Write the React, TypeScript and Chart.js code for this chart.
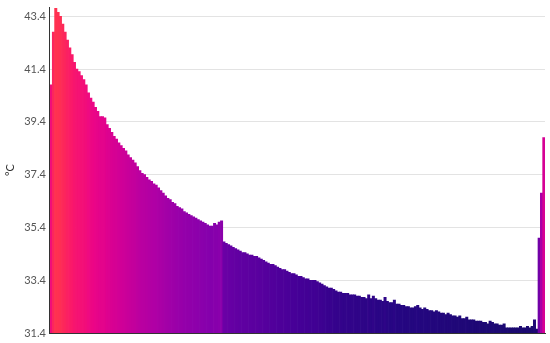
import React, { useEffect, useRef } from "react";
import { Chart, registerables } from "chart.js";

Chart.register(...registerables);

// Temperature per bar (°C), left to right
const TEMPS: number[] = [
  40.8, 42.8, 43.7, 43.55, 43.4, 43.1, 42.8, 42.5, 42.2, 41.95,
  41.65, 41.4, 41.3, 41.15, 41.0, 40.8, 40.5, 40.3, 40.15, 39.95,
  39.8, 39.6, 39.6, 39.55, 39.3, 39.15, 39.0, 38.85, 38.75, 38.6,
  38.5, 38.4, 38.3, 38.15, 38.05, 37.95, 37.85, 37.7, 37.55, 37.45,
  37.4, 37.3, 37.2, 37.15, 37.05, 37.0, 36.9, 36.8, 36.7, 36.6,
  36.5, 36.45, 36.35, 36.3, 36.2, 36.15, 36.1, 36.0, 35.95, 35.9,
  35.85, 35.8, 35.75, 35.7, 35.65, 35.6, 35.55, 35.5, 35.45, 35.45,
  35.55, 35.5, 35.6, 35.65,
  34.85, 34.8, 34.75, 34.7, 34.65, 34.6, 34.55, 34.5, 34.45, 34.45,
  34.4, 34.35, 34.35, 34.3, 34.3, 34.25, 34.2, 34.15, 34.1, 34.05,
  34.0, 34.0, 33.95, 33.9, 33.85, 33.8, 33.8, 33.75, 33.7, 33.65,
  33.65, 33.6, 33.55, 33.55, 33.5, 33.45, 33.45, 33.4, 33.4, 33.4,
  33.35, 33.3, 33.25, 33.2, 33.15, 33.1, 33.1, 33.05, 33.0, 32.95,
  32.95, 32.9, 32.9, 32.9, 32.85, 32.85, 32.85, 32.8, 32.8, 32.75,
  32.75, 32.7, 32.85, 32.7, 32.8, 32.7, 32.65, 32.65, 32.6, 32.75,
  32.6, 32.55, 32.55, 32.65, 32.5, 32.5, 32.45, 32.45, 32.4, 32.4,
  32.35, 32.35, 32.4, 32.45, 32.35, 32.3, 32.35, 32.3, 32.25, 32.25,
  32.2, 32.25, 32.2, 32.15, 32.15, 32.1, 32.15, 32.1, 32.05, 32.05,
  32.0, 32.05, 31.95, 31.95, 32.0, 31.9, 31.9, 31.9, 31.85, 31.85,
  31.85, 31.8, 31.8, 31.75, 31.85, 31.8, 31.75, 31.75, 31.7, 31.7,
  31.75, 31.6, 31.6, 31.6, 31.6, 31.6, 31.6, 31.65, 31.6, 31.6,
  31.65, 31.6, 31.65, 31.9, 31.55, 35.0, 36.7, 38.8,
];

const CATEGORIES: string[] = TEMPS.map((_, i) => String(i + 1));

const Y_TICKS: number[] = [31.4, 33.4, 35.4, 37.4, 39.4, 41.4, 43.4];
const Y_MIN = 31.4;
const Y_MAX = 43.75;
const Y_TITLE = "°C";

// Colour scale: temperature -> colour
const COLOR_STOP_VALUES: number[] = [31.4, 32.5, 33.5, 34.8, 35.5, 37.0, 38.6, 40.0, 42.0, 43.7];
const COLOR_STOP_RGB: number[][] = [
  [24, 10, 108],
  [38, 6, 130],
  [68, 0, 150],
  [105, 0, 165],
  [135, 0, 172],
  [175, 0, 165],
  [210, 0, 150],
  [235, 5, 135],
  [250, 25, 105],
  [255, 50, 80],
];

function colorFor(v: number): string {
  const s = COLOR_STOP_VALUES;
  if (v <= s[0]) return `rgb(${COLOR_STOP_RGB[0].join(",")})`;
  for (let i = 1; i < s.length; i++) {
    if (v <= s[i]) {
      const t = (v - s[i - 1]) / (s[i] - s[i - 1]);
      const a = COLOR_STOP_RGB[i - 1];
      const b = COLOR_STOP_RGB[i];
      const c = a.map((x, k) => Math.round(x + (b[k] - x) * t));
      return `rgb(${c.join(",")})`;
    }
  }
  return `rgb(${COLOR_STOP_RGB[COLOR_STOP_RGB.length - 1].join(",")})`;
}

export default function App() {
  const ref = useRef<HTMLCanvasElement | null>(null);

  useEffect(() => {
    if (!ref.current) return;
    const colors = TEMPS.map(colorFor);
    const chart = new Chart(ref.current, {
      type: "bar",
      data: {
        labels: CATEGORIES,
        datasets: [
          {
            data: TEMPS,
            backgroundColor: colors,
            borderColor: colors,
            borderWidth: 0,
            barPercentage: 1,
            categoryPercentage: 1,
          },
        ],
      },
      options: {
        animation: false,
        responsive: true,
        maintainAspectRatio: false,
        layout: { padding: { top: 7, right: 5, bottom: 2, left: 1 } },
        plugins: { legend: { display: false }, tooltip: { enabled: false } },
        scales: {
          x: {
            grid: { display: false },
            ticks: { display: false },
            border: { display: true, color: "#333", width: 1 },
          },
          y: {
            min: Y_MIN,
            max: Y_MAX,
            afterBuildTicks: (scale: any) => {
              scale.ticks = Y_TICKS.map((v) => ({ value: v }));
            },
            afterFit: (scale: any) => {
              scale.paddingTop = 0;
              scale.paddingBottom = 0;
            },
            grid: { color: "#e3e3e3", drawTicks: false },
            border: { display: true, color: "#333", width: 1 },
            ticks: {
              padding: 4,
              color: "#555",
              font: { family: "Lato", size: 11 },
              callback: (v: any) => Number(v).toFixed(1),
            },
            title: {
              display: true,
              text: Y_TITLE,
              color: "#333",
              font: { family: "Lato", size: 11 },
              padding: { top: 3, bottom: 3 },
            },
          },
        },
      },
    });
    return () => chart.destroy();
  }, []);

  return (
    <div style={{ position: "absolute", left: 0, top: 0, width: 550, height: 343 }}>
      <canvas ref={ref} />
    </div>
  );
}
